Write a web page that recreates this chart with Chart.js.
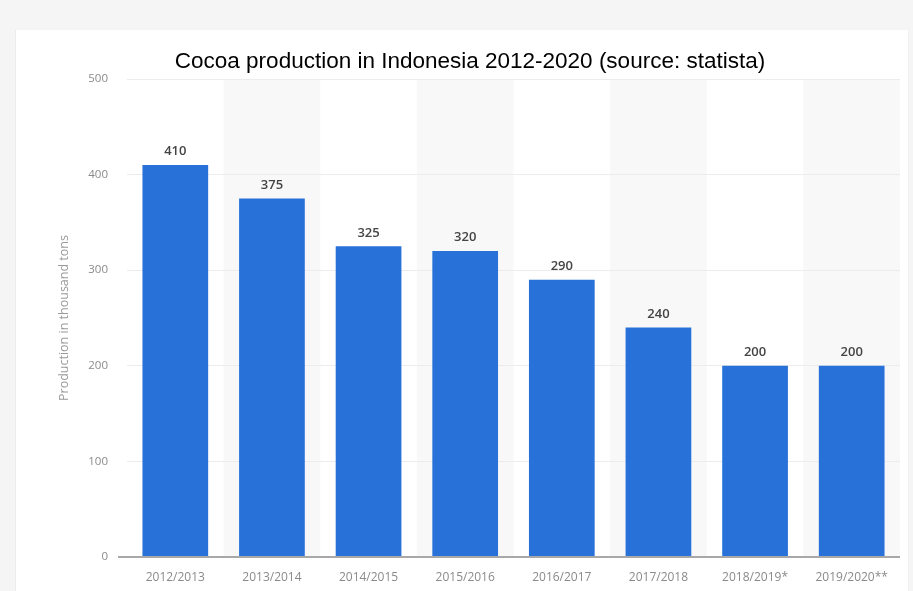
<!DOCTYPE html>
<html>
<head>
<meta charset="utf-8">
<script src="https://cdn.jsdelivr.net/npm/chart.js@4.4.0/dist/chart.umd.min.js"></script>
<style>
	body { margin: 0; background: #f5f5f5; width: 913px; height: 591px; overflow: hidden; position: relative; }
	#panel { position: absolute; left: 15px; top: 30px; width: 892px; height: 561px; background: #fff; border-left: 1px solid #ececec; border-right: 1px solid #f0f0f0; }
	#wrap { position: absolute; left: 0; top: 0; width: 913px; height: 591px; }
</style>
</head>
<body>
<div id="panel"></div>
<div id="wrap"><canvas id="myChart" width="913" height="591"></canvas></div>
<script>
//seasons on the x axis
var seasons = ["2012/2013", "2013/2014", "2014/2015", "2015/2016", "2016/2017", "2017/2018", "2018/2019*", "2019/2020**"];
//production in thousand tons
var production = [410, 375, 325, 320, 290, 240, 200, 200];
//y axis ticks
var yTicks = [0, 100, 200, 300, 400, 500];

//light grey stripes behind every second column
var stripes = {
	id: 'stripes',
	beforeDraw: function(chart) {
		var ctx = chart.ctx, area = chart.chartArea, x = chart.scales.x;
		var step = x.getPixelForValue(1) - x.getPixelForValue(0);
		ctx.save();
		ctx.fillStyle = "#f8f8f8";
		for (var i = 1; i < seasons.length; i += 2) {
			var cx = x.getPixelForValue(i);
			ctx.fillRect(cx - step / 2, area.top, step, area.bottom - area.top);
		}
		ctx.restore();
	}
};

//values above the bars and the base line
var barLabels = {
	id: 'barLabels',
	afterDatasetsDraw: function(chart) {
		var ctx = chart.ctx, area = chart.chartArea, y = chart.scales.y;
		ctx.save();
		ctx.strokeStyle = "#a8a8a8";
		ctx.lineWidth = 2;
		ctx.beginPath();
		ctx.moveTo(area.left - 9, y.getPixelForValue(0));
		ctx.lineTo(area.right, y.getPixelForValue(0));
		ctx.stroke();
		ctx.fillStyle = "#444";
		ctx.font = "600 13px 'Open Sans'";
		ctx.textAlign = "center";
		ctx.textBaseline = "bottom";
		chart.getDatasetMeta(0).data.forEach(function(bar, i) {
			ctx.fillText(production[i], bar.x, bar.y - 7);
		});
		ctx.restore();
	}
};

var ctx = document.getElementById("myChart").getContext('2d');
var myChart = new Chart(ctx, {
	type: 'bar',
	data: {
		labels: seasons,
		datasets: [{
			label: "Production in thousand tons",
			data: production,
			backgroundColor: "#2771d9",
			categoryPercentage: 1,
			barPercentage: 0.68
		}]
	},
	options: {
		responsive: false,
		animation: false,
		layout: { padding: { left: 40, right: 13, top: 30, bottom: 7 } },
		plugins: {
			legend: { display: false },
			tooltip: { enabled: false },
			title: {
				display: true,
				text: "Cocoa production in Indonesia 2012-2020 (source: statista)",
				color: "#000",
				font: { family: "'Liberation Sans', Arial", size: 22.5, weight: 'normal' },
				padding: { top: 18, bottom: 4 }
			}
		},
		scales: {
			x: {
				grid: { display: false, drawTicks: false },
				border: { display: false },
				ticks: { color: "#8a8a8a", font: { family: "'Open Sans'", size: 12 }, padding: 13, maxRotation: 0, autoSkip: false },
				afterFit: function(scale) { scale.height = 27; }
			},
			y: {
				min: 0,
				max: 500,
				afterBuildTicks: function(scale) {
					scale.ticks = yTicks.map(function(v) { return { value: v }; });
				},
				afterFit: function(scale) { scale.width = 87; },
				grid: { color: "#ececec", drawTicks: false },
				border: { display: false },
				ticks: { color: "#8a8a8a", font: { family: "'Open Sans'", size: 11.5 }, padding: 19 },
				title: {
					display: true,
					text: "Production in thousand tons",
					color: "#9a9a9a",
					font: { family: "'Open Sans'", size: 12.5 },
					padding: { top: 17, bottom: 0 }
				}
			}
		}
	},
	plugins: [stripes, barLabels]
});
</script>
</body>
</html>
